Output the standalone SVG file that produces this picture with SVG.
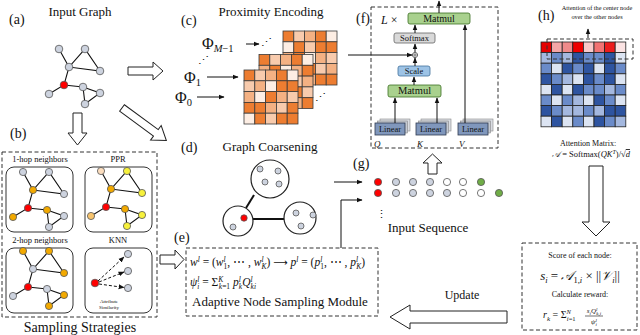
<svg xmlns="http://www.w3.org/2000/svg" width="640" height="335" viewBox="0 0 640 335">
<defs>
<style>
text{font-family:"Liberation Serif","Times New Roman","DejaVu Serif",serif;fill:#111}
.t13{font-size:13px}
.lab{font-size:14px}
.it{font-style:italic}
.n{stroke:#555;stroke-width:0.8}
.g{fill:#CDD3DF}.r{fill:#FF0000}.o{fill:#F2A900}.y{fill:#F7F13C}.p{fill:#FBDDBE}.lo{fill:#F7C46E}.w{fill:#fff}.gr{fill:#70AD47}
.edge{fill:none;stroke:#111;stroke-width:1.1}
.hollow{fill:#fff;stroke:#222;stroke-width:1}
.dash{fill:none;stroke:#333;stroke-width:1;stroke-dasharray:4 2.5}
.conn{fill:none;stroke:#111;stroke-width:1}
.rb{fill:#fff;stroke:#333;stroke-width:1}
.mx rect{stroke:#3a3a3a;stroke-width:0.8}
.cD{fill:#ED7D31}.cM{fill:#F4B183}.cL{fill:#F8CBAD}.cW{fill:#FDEEE4}
.hm rect{stroke:#222;stroke-width:0.8}
.bD{fill:#2E54A0}.bM{fill:#6A8BC9}.bL{fill:#A4B8DF}.bV{fill:#DCE4F2}
.big{fill:#fff;stroke:#222;stroke-width:1.2}
.thick{stroke:#111;stroke-width:2}
.ss{font-size:7.5px}
</style>
<marker id="ah" viewBox="0 0 10 10" refX="9" refY="5" markerWidth="6" markerHeight="6" orient="auto-start-reverse"><path d="M0,1 L10,5 L0,9 z" fill="#111"/></marker>
<path id="gedges" d="M-5,-36 L5,-18 L21,-36 L36,-14 L5,-18 L0,0 L-15,9 M0,0 L19,2 L36,8 L21,19 L19,2"/>
<g id="lin">
<rect x="5" y="-4" width="30" height="12" fill="#DADDE3" stroke="#888" stroke-width="0.6"/>
<rect x="2.5" y="-2" width="30" height="12" fill="#C5CAD3" stroke="#888" stroke-width="0.6"/>
<rect x="0" y="0" width="30" height="12" fill="#8097BC" stroke="#2F3B4F" stroke-width="0.8"/>
<text x="15" y="9" font-size="8.5" text-anchor="middle" fill="#1a2233">Linear</text>
</g>
</defs>

<!-- (a) Input graph -->
<g id="a">
<text x="9" y="24" class="lab">(a)</text>
<text x="80" y="16" class="t13" text-anchor="middle">Input Graph</text>
<use href="#gedges" class="edge" transform="translate(64,85)"/>
<g class="n">
<circle cx="59" cy="49" r="3.8" class="g"/><circle cx="85" cy="49" r="3.8" class="g"/>
<circle cx="69" cy="67" r="3.8" class="g"/><circle cx="100" cy="71" r="3.8" class="g"/>
<circle cx="49" cy="94" r="3.8" class="g"/><circle cx="83" cy="87" r="3.8" class="g"/>
<circle cx="100" cy="93" r="3.8" class="g"/><circle cx="85" cy="104" r="3.8" class="g"/>
<circle cx="64" cy="85" r="3.8" class="r"/>
</g>
</g>

<!-- hollow arrows -->
<g id="arrows">
<polygon class="hollow" points="128,67 153,67 153,62 163,71 153,80 153,75 128,75"/>
<polygon class="hollow" points="73,113 82,113 82,133 87,133 77.5,145 68,133 73,133"/>
<polygon class="hollow" transform="translate(122,108) rotate(36.25)" points="0,-4 42,-4 42,-9 55,0 42,9 42,4 0,4"/>
<polygon class="hollow" points="160,255 175,255 175,250 184,259.5 175,269 175,264 160,264"/>
<polygon class="hollow" points="428,174 428,163 423,163 432.5,154 442,163 437,163 437,174"/>
<polygon class="hollow" points="589,166 603,166 603,222 610,222 596,236 582,222 589,222"/>
<polygon class="hollow" points="390,317 410,305 410,311 507,311 507,323 410,323 410,329"/>
</g>

<!-- (c) Proximity encoding -->
<g id="c">
<text x="181" y="25" class="lab">(c)</text>
<text x="271" y="16" class="t13" text-anchor="middle">Proximity Encoding</text>
<text x="202" y="49" font-size="16">Φ<tspan dy="3" font-size="10.5" class="it">M</tspan><tspan font-size="10.5">−1</tspan></text>
<text x="184" y="83" font-size="16">Φ<tspan dy="3" font-size="10.5">1</tspan></text>
<text x="175" y="103" font-size="16">Φ<tspan dy="3" font-size="10.5">0</tspan></text>
<text x="261" y="46" font-size="11" font-family="DejaVu Sans">⋰</text>
<text x="198" y="64" font-size="11" font-family="DejaVu Sans">⋰</text>
<text x="315" y="101" font-size="11" font-family="DejaVu Sans">⋰</text>
<g class="mx" transform="translate(283,31)">
<rect x="0" y="0" width="10.8" height="10.8" class="cD"/><rect x="10.8" y="0" width="10.8" height="10.8" class="cL"/><rect x="21.6" y="0" width="10.8" height="10.8" class="cM"/><rect x="32.4" y="0" width="10.8" height="10.8" class="cD"/><rect x="43.2" y="0" width="10.8" height="10.8" class="cW"/>
<rect x="0" y="10.8" width="10.8" height="10.8" class="cW"/><rect x="10.8" y="10.8" width="10.8" height="10.8" class="cD"/><rect x="21.6" y="10.8" width="10.8" height="10.8" class="cL"/><rect x="32.4" y="10.8" width="10.8" height="10.8" class="cD"/><rect x="43.2" y="10.8" width="10.8" height="10.8" class="cD"/>
<rect x="0" y="21.6" width="10.8" height="10.8" class="cM"/><rect x="10.8" y="21.6" width="10.8" height="10.8" class="cD"/><rect x="21.6" y="21.6" width="10.8" height="10.8" class="cW"/><rect x="32.4" y="21.6" width="10.8" height="10.8" class="cM"/><rect x="43.2" y="21.6" width="10.8" height="10.8" class="cL"/>
<rect x="0" y="32.4" width="10.8" height="10.8" class="cD"/><rect x="10.8" y="32.4" width="10.8" height="10.8" class="cM"/><rect x="21.6" y="32.4" width="10.8" height="10.8" class="cD"/><rect x="32.4" y="32.4" width="10.8" height="10.8" class="cL"/><rect x="43.2" y="32.4" width="10.8" height="10.8" class="cM"/>
<rect x="0" y="43.2" width="10.8" height="10.8" class="cL"/><rect x="10.8" y="43.2" width="10.8" height="10.8" class="cD"/><rect x="21.6" y="43.2" width="10.8" height="10.8" class="cM"/><rect x="32.4" y="43.2" width="10.8" height="10.8" class="cD"/><rect x="43.2" y="43.2" width="10.8" height="10.8" class="cD"/>
</g>
<g class="mx" transform="translate(259,54.5)">
<rect x="0" y="0" width="10.8" height="10.8" class="cD"/><rect x="10.8" y="0" width="10.8" height="10.8" class="cL"/><rect x="21.6" y="0" width="10.8" height="10.8" class="cM"/><rect x="32.4" y="0" width="10.8" height="10.8" class="cD"/><rect x="43.2" y="0" width="10.8" height="10.8" class="cW"/>
<rect x="0" y="10.8" width="10.8" height="10.8" class="cM"/><rect x="10.8" y="10.8" width="10.8" height="10.8" class="cD"/><rect x="21.6" y="10.8" width="10.8" height="10.8" class="cW"/><rect x="32.4" y="10.8" width="10.8" height="10.8" class="cM"/><rect x="43.2" y="10.8" width="10.8" height="10.8" class="cD"/>
<rect x="0" y="21.6" width="10.8" height="10.8" class="cL"/><rect x="10.8" y="21.6" width="10.8" height="10.8" class="cM"/><rect x="21.6" y="21.6" width="10.8" height="10.8" class="cD"/><rect x="32.4" y="21.6" width="10.8" height="10.8" class="cL"/><rect x="43.2" y="21.6" width="10.8" height="10.8" class="cM"/>
<rect x="0" y="32.4" width="10.8" height="10.8" class="cD"/><rect x="10.8" y="32.4" width="10.8" height="10.8" class="cW"/><rect x="21.6" y="32.4" width="10.8" height="10.8" class="cM"/><rect x="32.4" y="32.4" width="10.8" height="10.8" class="cD"/><rect x="43.2" y="32.4" width="10.8" height="10.8" class="cL"/>
<rect x="0" y="43.2" width="10.8" height="10.8" class="cM"/><rect x="10.8" y="43.2" width="10.8" height="10.8" class="cD"/><rect x="21.6" y="43.2" width="10.8" height="10.8" class="cL"/><rect x="32.4" y="43.2" width="10.8" height="10.8" class="cM"/><rect x="43.2" y="43.2" width="10.8" height="10.8" class="cD"/>
</g>
<g class="mx" transform="translate(244,70)">
<rect x="0" y="0" width="10.8" height="10.8" class="cD"/><rect x="10.8" y="0" width="10.8" height="10.8" class="cL"/><rect x="21.6" y="0" width="10.8" height="10.8" class="cM"/><rect x="32.4" y="0" width="10.8" height="10.8" class="cD"/><rect x="43.2" y="0" width="10.8" height="10.8" class="cW"/>
<rect x="0" y="10.8" width="10.8" height="10.8" class="cL"/><rect x="10.8" y="10.8" width="10.8" height="10.8" class="cM"/><rect x="21.6" y="10.8" width="10.8" height="10.8" class="cW"/><rect x="32.4" y="10.8" width="10.8" height="10.8" class="cD"/><rect x="43.2" y="10.8" width="10.8" height="10.8" class="cD"/>
<rect x="0" y="21.6" width="10.8" height="10.8" class="cM"/><rect x="10.8" y="21.6" width="10.8" height="10.8" class="cW"/><rect x="21.6" y="21.6" width="10.8" height="10.8" class="cD"/><rect x="32.4" y="21.6" width="10.8" height="10.8" class="cM"/><rect x="43.2" y="21.6" width="10.8" height="10.8" class="cL"/>
<rect x="0" y="32.4" width="10.8" height="10.8" class="cD"/><rect x="10.8" y="32.4" width="10.8" height="10.8" class="cD"/><rect x="21.6" y="32.4" width="10.8" height="10.8" class="cM"/><rect x="32.4" y="32.4" width="10.8" height="10.8" class="cL"/><rect x="43.2" y="32.4" width="10.8" height="10.8" class="cD"/>
<rect x="0" y="43.2" width="10.8" height="10.8" class="cW"/><rect x="10.8" y="43.2" width="10.8" height="10.8" class="cD"/><rect x="21.6" y="43.2" width="10.8" height="10.8" class="cL"/><rect x="32.4" y="43.2" width="10.8" height="10.8" class="cD"/><rect x="43.2" y="43.2" width="10.8" height="10.8" class="cD"/>
</g>
</g>

<!-- (f) Transformer block -->
<g id="f">
<rect class="dash" x="371" y="7" width="127" height="141"/>
<text x="356" y="23" class="lab">(f)</text>
<text x="381" y="24" font-size="12"><tspan class="it">L</tspan> ×</text>
<g id="matmul-top"><rect x="408" y="13" width="62" height="11" rx="2" fill="#A9D18E" stroke="#3B6E22" stroke-width="0.8"/><text x="439" y="21.8" font-size="10" text-anchor="middle">Matmul</text></g>
<g id="softmax"><rect x="394" y="33" width="41" height="10" rx="2" fill="#D9D9D9" stroke="#666" stroke-width="0.8"/><text x="414.5" y="41" font-size="8.5" text-anchor="middle">Softmax</text></g>
<g id="plus"><circle cx="415" cy="55" r="2.6" fill="#fff" stroke="#333" stroke-width="0.7"/><path d="M412.4,55 H417.6 M415,52.4 V57.6" stroke="#333" stroke-width="0.6"/></g>
<g id="scale"><rect x="398" y="66" width="32" height="10" rx="2" fill="#9DC3E6" stroke="#41719C" stroke-width="0.8"/><text x="414" y="74" font-size="8.5" text-anchor="middle">Scale</text></g>
<g id="matmul-low"><rect x="388" y="85" width="53" height="12" rx="2" fill="#A9D18E" stroke="#3B6E22" stroke-width="0.8"/><text x="414.5" y="94.3" font-size="10.5" text-anchor="middle">Matmul</text></g>
<use href="#lin" x="375" y="123"/>
<use href="#lin" x="416" y="123"/>
<use href="#lin" x="458" y="123"/>
<text x="374" y="147" font-size="9" class="it">Q</text>
<text x="417" y="147" font-size="9" class="it">K</text>
<text x="459" y="147" font-size="9" class="it">V</text>
</g>

<!-- (h) attention matrix -->
<g id="h">
<text x="538" y="20" class="lab">(h)</text>
<text x="597" y="10" font-size="6.3" text-anchor="middle">Attention of the center node</text>
<text x="597" y="19" font-size="6.3" text-anchor="middle">over the other nodes</text>
<g class="hm" transform="translate(541,42)">
<rect x="0" y="0" width="10.6" height="10.6" fill="#E60000"/><rect x="10.6" y="0" width="10.6" height="10.6" fill="#F4A6A6"/><rect x="21.2" y="0" width="10.6" height="10.6" fill="#F08A8A"/><rect x="31.8" y="0" width="10.6" height="10.6" fill="#EE0000"/><rect x="42.4" y="0" width="10.6" height="10.6" fill="#F9CACA"/><rect x="53" y="0" width="10.6" height="10.6" fill="#F27272"/><rect x="63.6" y="0" width="10.6" height="10.6" fill="#EC1C1C"/><rect x="74.2" y="0" width="10.6" height="10.6" fill="#FBE3E3"/>
<rect x="0" y="10.6" width="10.6" height="10.6" class="bL"/><rect x="10.6" y="10.6" width="10.6" height="10.6" class="bM"/><rect x="21.2" y="10.6" width="10.6" height="10.6" class="bL"/><rect x="31.8" y="10.6" width="10.6" height="10.6" class="bD"/><rect x="42.4" y="10.6" width="10.6" height="10.6" class="bM"/><rect x="53" y="10.6" width="10.6" height="10.6" class="bM"/><rect x="63.6" y="10.6" width="10.6" height="10.6" class="bD"/><rect x="74.2" y="10.6" width="10.6" height="10.6" class="bV"/>
<rect x="0" y="21.2" width="10.6" height="10.6" class="bM"/><rect x="10.6" y="21.2" width="10.6" height="10.6" class="bV"/><rect x="21.2" y="21.2" width="10.6" height="10.6" class="bD"/><rect x="31.8" y="21.2" width="10.6" height="10.6" class="bM"/><rect x="42.4" y="21.2" width="10.6" height="10.6" class="bD"/><rect x="53" y="21.2" width="10.6" height="10.6" class="bV"/><rect x="63.6" y="21.2" width="10.6" height="10.6" class="bD"/><rect x="74.2" y="21.2" width="10.6" height="10.6" class="bM"/>
<rect x="0" y="31.8" width="10.6" height="10.6" class="bD"/><rect x="10.6" y="31.8" width="10.6" height="10.6" class="bM"/><rect x="21.2" y="31.8" width="10.6" height="10.6" class="bL"/><rect x="31.8" y="31.8" width="10.6" height="10.6" class="bV"/><rect x="42.4" y="31.8" width="10.6" height="10.6" class="bD"/><rect x="53" y="31.8" width="10.6" height="10.6" class="bM"/><rect x="63.6" y="31.8" width="10.6" height="10.6" class="bD"/><rect x="74.2" y="31.8" width="10.6" height="10.6" class="bV"/>
<rect x="0" y="42.4" width="10.6" height="10.6" class="bV"/><rect x="10.6" y="42.4" width="10.6" height="10.6" class="bD"/><rect x="21.2" y="42.4" width="10.6" height="10.6" class="bV"/><rect x="31.8" y="42.4" width="10.6" height="10.6" class="bD"/><rect x="42.4" y="42.4" width="10.6" height="10.6" class="bM"/><rect x="53" y="42.4" width="10.6" height="10.6" class="bM"/><rect x="63.6" y="42.4" width="10.6" height="10.6" class="bL"/><rect x="74.2" y="42.4" width="10.6" height="10.6" class="bM"/>
<rect x="0" y="53" width="10.6" height="10.6" class="bM"/><rect x="10.6" y="53" width="10.6" height="10.6" class="bV"/><rect x="21.2" y="53" width="10.6" height="10.6" class="bM"/><rect x="31.8" y="53" width="10.6" height="10.6" class="bL"/><rect x="42.4" y="53" width="10.6" height="10.6" class="bV"/><rect x="53" y="53" width="10.6" height="10.6" class="bD"/><rect x="63.6" y="53" width="10.6" height="10.6" class="bM"/><rect x="74.2" y="53" width="10.6" height="10.6" class="bV"/>
<rect x="0" y="63.6" width="10.6" height="10.6" class="bD"/><rect x="10.6" y="63.6" width="10.6" height="10.6" class="bM"/><rect x="21.2" y="63.6" width="10.6" height="10.6" class="bL"/><rect x="31.8" y="63.6" width="10.6" height="10.6" class="bL"/><rect x="42.4" y="63.6" width="10.6" height="10.6" class="bM"/><rect x="53" y="63.6" width="10.6" height="10.6" class="bL"/><rect x="63.6" y="63.6" width="10.6" height="10.6" class="bD"/><rect x="74.2" y="63.6" width="10.6" height="10.6" class="bD"/>
<rect x="0" y="74.2" width="10.6" height="10.6" class="bV"/><rect x="10.6" y="74.2" width="10.6" height="10.6" class="bD"/><rect x="21.2" y="74.2" width="10.6" height="10.6" class="bV"/><rect x="31.8" y="74.2" width="10.6" height="10.6" class="bM"/><rect x="42.4" y="74.2" width="10.6" height="10.6" class="bV"/><rect x="53" y="74.2" width="10.6" height="10.6" class="bD"/><rect x="63.6" y="74.2" width="10.6" height="10.6" class="bM"/><rect x="74.2" y="74.2" width="10.6" height="10.6" class="bL"/>
</g>
<rect class="dash" x="547" y="39" width="86" height="20"/>
<text x="588" y="146" font-size="8" text-anchor="middle">Attention Matrix:</text>
<text x="591" y="157" font-size="8.5" text-anchor="middle"><tspan font-family="DejaVu Serif" class="it">𝒜</tspan> = Softmax(<tspan class="it">QK</tspan><tspan dy="-3" font-size="6" class="it">T</tspan><tspan dy="3">)/√</tspan><tspan class="it" text-decoration="overline">d</tspan></text>
</g>

<!-- (b) sampling strategies -->
<g id="b">
<text x="10" y="138" class="lab">(b)</text>
<rect class="dash" x="2" y="152" width="155" height="165"/>
<text x="80" y="332" font-size="14" text-anchor="middle">Sampling Strategies</text>
<g id="hop1">
<rect class="rb" x="6" y="167" width="67" height="65" rx="8"/>
<text x="40" y="162" font-size="8.5" text-anchor="middle">1-hop neighbors</text>
<use href="#gedges" class="edge" transform="translate(28,208)"/>
<g class="n">
<circle cx="23" cy="172" r="3.6" class="g"/><circle cx="49" cy="172" r="3.6" class="g"/>
<circle cx="33" cy="190" r="3.6" class="o"/><circle cx="64" cy="194" r="3.6" class="g"/>
<circle cx="13" cy="217" r="3.6" class="o"/><circle cx="47" cy="210" r="3.6" class="o"/>
<circle cx="64" cy="216" r="3.6" class="g"/><circle cx="49" cy="227" r="3.6" class="g"/>
<circle cx="28" cy="208" r="3.6" class="r"/>
</g>
</g>
<g id="ppr">
<rect class="rb" x="85" y="167" width="67" height="65" rx="8"/>
<text x="118" y="162" font-size="8.5" text-anchor="middle">PPR</text>
<use href="#gedges" class="edge" transform="translate(106,207)"/>
<g class="n">
<circle cx="101" cy="171" r="3.6" class="p"/><circle cx="127" cy="171" r="3.6" class="y"/>
<circle cx="111" cy="189" r="3.6" class="o"/><circle cx="142" cy="193" r="3.6" class="y"/>
<circle cx="91" cy="216" r="3.6" class="lo"/><circle cx="125" cy="209" r="3.6" class="o"/>
<circle cx="142" cy="215" r="3.6" class="y"/><circle cx="127" cy="226" r="3.6" class="y"/>
<circle cx="106" cy="207" r="3.6" class="r"/>
</g>
</g>
<g id="hop2">
<rect class="rb" x="6" y="248" width="67" height="65" rx="8"/>
<text x="40" y="243" font-size="8.5" text-anchor="middle">2-hop neighbors</text>
<use href="#gedges" class="edge" transform="translate(28,287)"/>
<g class="n">
<circle cx="23" cy="251" r="3.6" class="o"/><circle cx="49" cy="251" r="3.6" class="o"/>
<circle cx="33" cy="269" r="3.6" class="g"/><circle cx="64" cy="273" r="3.6" class="o"/>
<circle cx="13" cy="296" r="3.6" class="g"/><circle cx="47" cy="289" r="3.6" class="g"/>
<circle cx="64" cy="295" r="3.6" class="o"/><circle cx="49" cy="306" r="3.6" class="o"/>
<circle cx="28" cy="287" r="3.6" class="r"/>
</g>
</g>
<g id="knn">
<rect class="rb" x="85" y="248" width="67" height="65" rx="8"/>
<text x="118" y="243" font-size="8.5" text-anchor="middle">KNN</text>
<g class="n">
<circle cx="128" cy="254" r="3.6" class="g"/><circle cx="128" cy="271" r="3.6" class="g"/><circle cx="128" cy="288" r="3.6" class="g"/>
<circle cx="95" cy="283" r="3.8" class="r"/>
</g>
<text x="109" y="303" font-size="5" text-anchor="middle">Attribute</text>
<text x="109" y="309" font-size="5" text-anchor="middle">Similarity</text>
</g>
</g>

<!-- (d) Graph coarsening -->
<g id="d">
<text x="181" y="152" class="lab">(d)</text>
<text x="270" y="151" class="t13" text-anchor="middle">Graph Coarsening</text>
<line x1="254" y1="195" x2="246" y2="208" class="thick"/>
<line x1="253" y1="219" x2="284" y2="219" class="thick"/>
<circle cx="270" cy="179" r="19" class="big"/>
<circle cx="238" cy="221" r="15" class="big"/>
<circle cx="300" cy="218" r="16" class="big"/>
<g class="n">
<circle cx="260" cy="169" r="3" class="g"/><circle cx="278" cy="171" r="3" class="g"/><circle cx="265" cy="182" r="3" class="g"/><circle cx="279" cy="184" r="3" class="g"/>
<circle cx="244" cy="218" r="3.2" class="r"/><circle cx="233" cy="227" r="3" class="g"/>
<circle cx="296" cy="213" r="3" class="g"/><circle cx="313" cy="215" r="3" class="g"/><circle cx="301" cy="226" r="3" class="g"/>
</g>
</g>

<!-- (g) input sequence -->
<g id="g">
<text x="353" y="168" class="lab">(g)</text>
<g class="n">
<circle cx="378" cy="182" r="3.6" class="r"/><circle cx="396" cy="182" r="3.6" class="g"/><circle cx="413" cy="182" r="3.6" class="g"/><circle cx="430" cy="182" r="3.6" class="g"/><circle cx="447" cy="182" r="3.6" class="w"/><circle cx="463" cy="182" r="3.6" class="w"/><circle cx="481" cy="182" r="3.6" class="gr"/>
<circle cx="378" cy="193" r="3.6" class="r"/><circle cx="396" cy="193" r="3.6" class="g"/><circle cx="413" cy="193" r="3.6" class="g"/><circle cx="430" cy="193" r="3.6" class="g"/><circle cx="447" cy="193" r="3.6" class="g"/><circle cx="463" cy="193" r="3.6" class="w"/><circle cx="481" cy="193" r="3.6" class="w"/><circle cx="499" cy="193" r="3.6" class="gr"/>
</g>
<text x="376" y="218" font-size="11" font-family="DejaVu Sans">⋮</text>
<text x="428" y="232" class="t13" text-anchor="middle">Input Sequence</text>
</g>

<!-- (e) adaptive node sampling -->
<g id="e">
<text x="174" y="242" class="lab">(e)</text>
<rect class="dash" x="186" y="248" width="192" height="68"/>
<text x="190" y="266" font-size="11.5"><tspan class="it">w</tspan><tspan dy="-4.5" class="ss it">l</tspan><tspan dy="4.5"> = (</tspan><tspan class="it">w</tspan><tspan dy="-4.5" class="ss it">l</tspan><tspan dx="-2" dy="7.5" class="ss">1</tspan><tspan dy="-3">, ⋯ , </tspan><tspan class="it">w</tspan><tspan dy="-4.5" class="ss it">l</tspan><tspan dx="-2" dy="7.5" class="ss it">K</tspan><tspan dy="-3">) </tspan><tspan font-family="DejaVu Sans" font-size="10">⟶</tspan><tspan> </tspan><tspan class="it">p</tspan><tspan dy="-4.5" class="ss it">l</tspan><tspan dy="4.5"> = (</tspan><tspan class="it">p</tspan><tspan dy="-4.5" class="ss it">l</tspan><tspan dx="-2" dy="7.5" class="ss">1</tspan><tspan dy="-3">, ⋯ , </tspan><tspan class="it">p</tspan><tspan dy="-4.5" class="ss it">l</tspan><tspan dx="-2" dy="7.5" class="ss it">K</tspan><tspan dy="-3">)</tspan></text>
<text x="190" y="286" font-size="11.5"><tspan class="it">ψ</tspan><tspan dy="-4.5" class="ss it">l</tspan><tspan dx="-2" dy="7.5" class="ss it">i</tspan><tspan dy="-3"> = Σ</tspan><tspan dy="-4.5" class="ss it">K</tspan><tspan dx="-4.5" dy="7.5" class="ss"><tspan class="it">k</tspan>=1</tspan><tspan dy="-3"> </tspan><tspan class="it">p</tspan><tspan dy="-4.5" class="ss it">l</tspan><tspan dx="-2" dy="7.5" class="ss it">k</tspan><tspan dy="-3" class="it">Q</tspan><tspan dy="-4.5" class="ss it">l</tspan><tspan dx="-2" dy="7.5" class="ss it">ki</tspan></text>
<text x="192" y="306" class="t13">Adaptive Node Sampling Module</text>
<text x="462" y="299" font-size="12" text-anchor="middle">Update</text>
</g>

<!-- reward box -->
<g id="reward">
<rect class="dash" x="522" y="243" width="115" height="87"/>
<text x="580" y="258" font-size="8" text-anchor="middle">Score of each node:</text>
<text x="580" y="280" font-size="13" text-anchor="middle"><tspan class="it">s</tspan><tspan dy="3" font-size="8.5" class="it">i</tspan><tspan dy="-3"> = </tspan><tspan font-family="DejaVu Serif" class="it">𝒜</tspan><tspan dy="3" font-size="8.5">1,<tspan class="it">i</tspan></tspan><tspan dy="-3"> × ||</tspan><tspan font-family="DejaVu Serif" class="it">𝒱</tspan><tspan dy="3" font-size="8.5" class="it">i</tspan><tspan dy="-3">||</tspan></text>
<text x="580" y="297" font-size="8" text-anchor="middle">Calculate reward:</text>
<text x="543" y="318" font-size="10"><tspan class="it">r</tspan><tspan dy="2.5" font-size="7" class="it">k</tspan><tspan dy="-2.5"> = Σ</tspan><tspan dy="-4" font-size="6.5" class="it">N</tspan><tspan dx="-4" dy="7" font-size="6.5"><tspan class="it">i</tspan>=1</tspan></text>
<text x="594" y="313" font-size="7" text-anchor="middle"><tspan class="it">s</tspan><tspan dy="1.5" font-size="5" class="it">i</tspan><tspan dy="-1.5" class="it">Q</tspan><tspan dy="-2.5" font-size="5" class="it">l</tspan><tspan dx="-1.2" dy="4" font-size="5"><tspan class="it">k</tspan>,<tspan class="it">i</tspan></tspan></text>
<line x1="585" y1="316" x2="603" y2="316" stroke="#111" stroke-width="0.6"/>
<text x="594" y="324" font-size="7" text-anchor="middle"><tspan class="it">ψ</tspan><tspan dy="-2.5" font-size="5" class="it">l</tspan><tspan dx="-1.2" dy="4" font-size="5" class="it">i</tspan></text>
</g>

<g id="connectors">
<line x1="246" y1="44" x2="259" y2="44" class="conn" marker-end="url(#ah)"/>
<line x1="207" y1="77" x2="238" y2="77" class="conn" marker-end="url(#ah)"/>
<line x1="197" y1="97" x2="224" y2="97" class="conn" marker-end="url(#ah)"/>
<line x1="395" y1="123" x2="395" y2="98" class="conn" marker-end="url(#ah)"/>
<line x1="437" y1="123" x2="437" y2="98" class="conn" marker-end="url(#ah)"/>
<line x1="465" y1="123" x2="465" y2="25" class="conn" marker-end="url(#ah)"/>
<line x1="414" y1="85" x2="414" y2="77" class="conn" marker-end="url(#ah)"/>
<line x1="415" y1="66" x2="415" y2="58" class="conn" marker-end="url(#ah)"/>
<line x1="415" y1="52" x2="415" y2="44" class="conn" marker-end="url(#ah)"/>
<line x1="415" y1="33" x2="415" y2="25" class="conn" marker-end="url(#ah)"/>
<line x1="439" y1="13" x2="439" y2="1" class="conn" marker-end="url(#ah)"/>
<line x1="348" y1="55" x2="412" y2="55" class="conn" marker-end="url(#ah)"/>
<line x1="334" y1="182" x2="362" y2="182" class="conn" marker-end="url(#ah)"/>
<polyline points="341,248 341,200 362,200" class="conn" marker-end="url(#ah)"/>
<line x1="588" y1="38" x2="588" y2="29" class="conn" marker-end="url(#ah)"/>
<line x1="98" y1="281" x2="124" y2="257" class="conn" stroke-dasharray="3 2" marker-end="url(#ah)"/>
<line x1="99" y1="282" x2="124" y2="272" class="conn" stroke-dasharray="3 2" marker-end="url(#ah)"/>
<line x1="99" y1="284" x2="124" y2="287.5" class="conn" stroke-dasharray="3 2" marker-end="url(#ah)"/>
</g>
</svg>
